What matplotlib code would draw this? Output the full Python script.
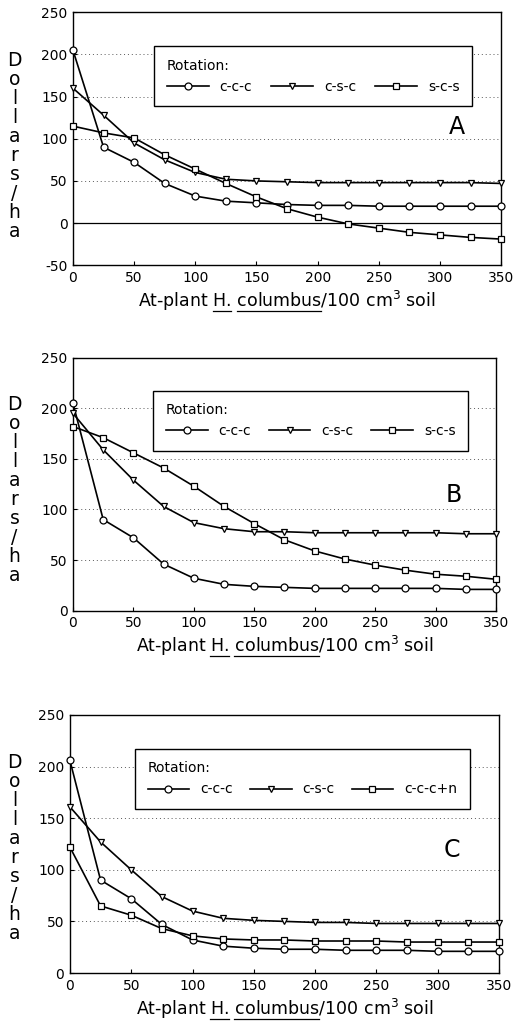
import matplotlib
matplotlib.use("Agg")
import matplotlib.pyplot as plt
from matplotlib.lines import Line2D

plt.rcParams['font.family'] = 'DejaVu Sans'
plt.rcParams['mathtext.fontset'] = 'custom'
plt.rcParams['mathtext.rm'] = 'DejaVu Sans'
plt.rcParams['axes.unicode_minus'] = False

# nematode density at planting
x = [0, 25, 50, 75, 100, 125, 150, 175, 200, 225, 250, 275, 300, 325, 350]

# panel A
a_ccc = [205, 90, 72, 47, 32, 26, 24, 22, 21, 21, 20, 20, 20, 20, 20]
a_csc = [160, 128, 95, 75, 60, 52, 50, 49, 48, 48, 48, 48, 48, 48, 47]
a_scs = [115, 107, 101, 81, 64, 47, 31, 17, 7, -1, -6, -11, -14, -17, -19]

# panel B
b_ccc = [205, 90, 72, 46, 32, 26, 24, 23, 22, 22, 22, 22, 22, 21, 21]
b_csc = [195, 159, 129, 103, 87, 81, 78, 78, 77, 77, 77, 77, 77, 76, 76]
b_scs = [182, 171, 156, 141, 123, 103, 86, 70, 59, 51, 45, 40, 36, 34, 31]

# panel C
c_ccc = [206, 90, 72, 47, 32, 26, 24, 23, 23, 22, 22, 22, 21, 21, 21]
c_csc = [161, 127, 100, 74, 60, 53, 51, 50, 49, 49, 48, 48, 48, 48, 48]
c_cccn = [122, 65, 56, 43, 36, 33, 32, 32, 31, 31, 31, 30, 30, 30, 30]

labels_ab = ['c-c-c', 'c-s-c', 's-c-s']
labels_c = ['c-c-c', 'c-s-c', 'c-c-c+n']
markers = ['o', 'v', 's']

xlabel = "At-plant H. columbus/100 cm$^3$ soil"

fig = plt.figure(figsize=(5.14, 10.28), dpi=100)
xlabels = []


def panel(rect, series, labels, ylim, yticks, letter, leg_box, letter_pos, ylab_x, ylab_y):
    ax = fig.add_axes(rect)
    for y in yticks:
        if y == 0 and ylim[0] < 0:
            ax.axhline(0, color='black', lw=0.9, zorder=1)
        elif y not in (ylim[0], ylim[1]):
            ax.axhline(y, color='0.35', lw=0.7, ls=(0, (1, 3)), zorder=1)
    for s, lab, m in zip(series, labels, markers):
        ax.plot(x, s, color='black', lw=1.2, marker=m, ms=5, mfc='white',
                mec='black', mew=0.9, label=lab, zorder=3, clip_on=False)
    ax.set_xlim(0, 350)
    ax.set_ylim(*ylim)
    ax.set_xticks(range(0, 351, 50))
    ax.set_yticks(yticks)
    ax.tick_params(direction='in', length=3, labelsize=10, pad=4)
    for sp in ax.spines.values():
        sp.set_linewidth(1.0)
    xl = ax.set_xlabel(xlabel, fontsize=12.5, labelpad=3)
    xlabels.append(xl)
    leg = ax.legend(loc='lower left', bbox_to_anchor=leg_box, mode='expand',
                    ncol=3, title='Rotation:', alignment='left', fontsize=10,
                    title_fontsize=10, frameon=True, fancybox=False,
                    edgecolor='black', framealpha=1, handlelength=3,
                    numpoints=1, borderpad=0.9, columnspacing=1.5,
                    borderaxespad=0)
    leg.get_frame().set_linewidth(1.0)
    ax.text(letter_pos[0], letter_pos[1], letter, transform=ax.transAxes,
            fontsize=17, ha='center', va='center')
    fig.text(ylab_x, ylab_y, "\n".join("Dollars/ha"), fontsize=13.5,
             ha='center', va='center', linespacing=1.0)
    return ax


panel([0.142, 0.742, 0.833, 0.246], [a_ccc, a_csc, a_scs], labels_ab,
      (-50, 250), range(-50, 251, 50), 'A',
      (0.19, 0.628, 0.742, 0.289), (0.897, 0.545), 0.028, 1 - 146 / 1028)

panel([0.142, 0.406, 0.823, 0.246], [b_ccc, b_csc, b_scs], labels_ab,
      (0, 250), range(0, 251, 50), 'B',
      (0.19, 0.632, 0.744, 0.281), (0.90, 0.458), 0.028, 1 - 490 / 1028)

panel([0.136, 0.0535, 0.835, 0.251], [c_ccc, c_csc, c_cccn], labels_c,
      (0, 250), range(0, 251, 50), 'C',
      (0.152, 0.636, 0.78, 0.279), (0.89, 0.477), 0.028, 1 - 848 / 1028)

# underline "H." and "columbus" in each x label (mathtext has no \underline)
fig.canvas.draw()
r = fig.canvas.get_renderer()
inv = fig.transFigure.inverted()


def tw(s, prop):
    return r.get_text_width_height_descent(s, prop, ismath=False)[0]


for xl in xlabels:
    prop = xl.get_fontproperties()
    bb = xl.get_window_extent(r)
    y = bb.y0 + 2
    for pre, word in [("At-plant ", "H."), ("At-plant H. ", "columbus")]:
        x0 = bb.x0 + tw(pre + word, prop) - tw(word, prop)
        x1 = bb.x0 + tw(pre + word, prop)
        (fx0, fy), (fx1, _) = inv.transform([(x0, y), (x1, y)])
        fig.add_artist(Line2D([fx0, fx1], [fy, fy], color='black', lw=0.9))

fig.savefig('out.png', dpi=100)
